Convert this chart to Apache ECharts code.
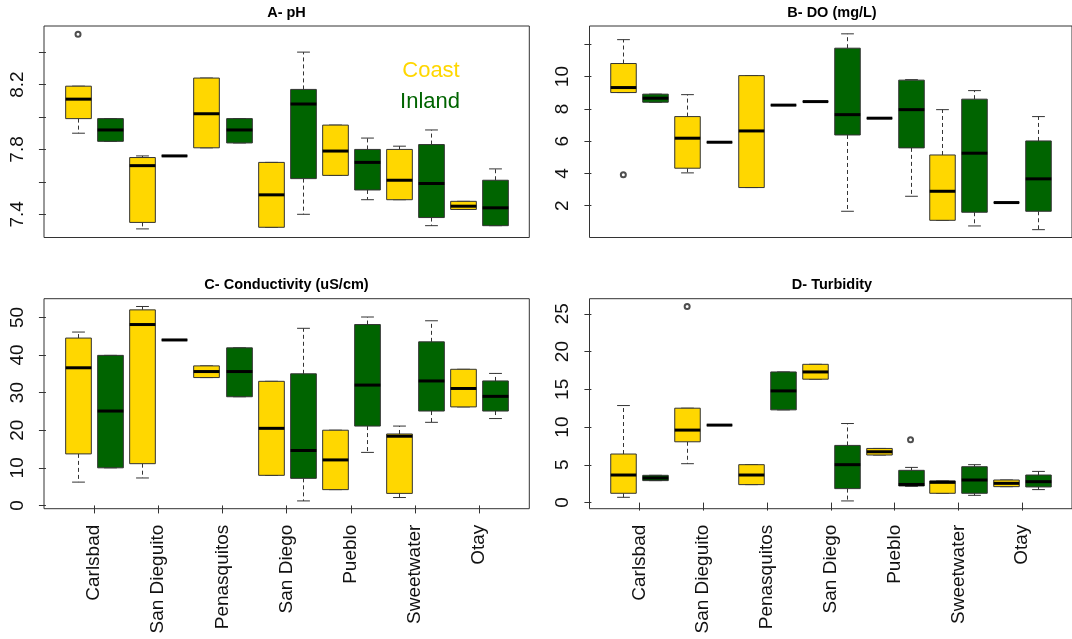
<!DOCTYPE html>
<html><head><meta charset="utf-8">
<script src="https://cdn.jsdelivr.net/npm/echarts@6/dist/echarts.min.js"></script>
<style>html,body{margin:0;padding:0;background:#fff}#c{width:1072px;height:639px}</style>
</head><body><div id="c"></div>
<script>
const sites = ['Carlsbad','San Dieguito','Penasquitos','San Diego','Pueblo','Sweetwater','Otay'];
const siteTicks = [1.5,3.5,5.5,7.5,9.5,11.5,13.5];

// each row: [lower whisker, Q1, median, Q3, upper whisker]
const phCoast = [[7.90,7.99,8.11,8.19,8.19],[7.31,7.35,7.70,7.75,7.76],[7.81,7.81,8.02,8.24,8.24],[7.32,7.32,7.52,7.72,7.72],[7.64,7.64,7.79,7.95,7.95],[7.49,7.49,7.61,7.80,7.82],[7.43,7.43,7.45,7.48,7.48]];
const phInland = [[7.85,7.85,7.92,7.99,7.99],[7.76,7.76,7.76,7.76,7.76],[7.84,7.84,7.92,7.99,7.99],[7.40,7.62,8.08,8.17,8.40],[7.49,7.55,7.72,7.80,7.87],[7.33,7.38,7.59,7.83,7.92],[7.33,7.33,7.44,7.61,7.68]];
const phOutCoast = [[0,8.51]];
const phOutInland = [];

const doCoast = [[9.01,9.01,9.32,10.81,12.29],[4.03,4.32,6.18,7.52,8.88],[3.12,3.12,6.63,10.06,10.06],[8.45,8.45,8.45,8.45,8.45],[7.42,7.42,7.42,7.42,7.42],[1.09,1.09,2.89,5.14,7.95],[2.19,2.19,2.19,2.19,2.19]];
const doInland = [[8.41,8.41,8.66,8.91,8.91],[5.93,5.93,5.93,5.93,5.93],[8.23,8.23,8.23,8.23,8.23],[1.65,6.38,7.64,11.76,12.65],[2.58,5.58,7.95,9.78,9.81],[0.74,1.59,5.25,8.60,9.13],[0.51,1.65,3.66,6.01,7.52]];
const doOutCoast = [[0,3.92]];
const doOutInland = [];

const condCoast = [[6.2,13.7,36.6,44.5,46.1],[7.3,11.1,48.1,52.0,52.9],[34.0,34.0,35.6,37.1,37.1],[8.0,8.0,20.5,33.0,33.0],[4.2,4.2,12.1,20.0,20.0],[2.1,3.2,18.4,19.0,21.1],[26.2,26.2,31.1,36.2,36.2]];
const condInland = [[10.0,10.0,25.1,39.9,39.9],[44.0,44.0,44.0,44.0,44.0],[28.9,28.9,35.6,41.9,41.9],[1.2,7.2,14.6,35.0,47.1],[14.1,21.1,32.0,48.1,50.1],[22.1,25.1,33.1,43.5,49.1],[23.1,25.1,29.0,33.1,35.1]];
const condOutCoast = [];
const condOutInland = [];

const turbCoast = [[0.70,1.23,3.65,6.43,12.85],[5.15,8.05,9.60,12.50,12.50],[2.38,2.38,3.65,5.02,5.02],[16.34,16.34,17.30,18.31,18.31],[6.30,6.30,6.73,7.17,7.17],[1.23,1.23,2.68,2.87,2.87],[2.11,2.11,2.55,2.99,2.99]];
const turbInland = [[2.91,2.91,3.26,3.61,3.61],[10.26,10.26,10.26,10.26,10.26],[12.28,12.28,14.79,17.30,17.30],[0.22,1.85,5.02,7.57,10.47],[2.15,2.20,2.40,4.27,4.66],[0.96,1.23,2.99,4.75,5.02],[1.72,2.07,2.77,3.65,4.13]];
const turbOutCoast = [[1,25.97]];
const turbOutInland = [[4,8.32]];

const yTicksA = [7.4,7.6,7.8,8.0,8.2,8.4], yLabelsA = [7.4,7.8,8.2];
const yTicksB = [2,4,6,8,10,12], yLabelsB = [2,4,6,8,10];
const yTicksC = [0,10,20,30,40,50], yLabelsC = [0,10,20,30,40,50];
const yTicksD = [0,5,10,15,20,25], yLabelsD = [0,5,10,15,20,25];

const titles = ['A- pH','B- DO (mg/L)','C- Conductivity (uS/cm)','D- Turbidity'];

const GOLD = '#FFD700', GREEN = '#006400';
const FONT = "'Liberation Sans', Arial, sans-serif";

function boxRender(color){
  return function(params, api){
    const x = api.value(0);
    const lo = api.coord([x, api.value(1)]), q1 = api.coord([x, api.value(2)]),
          md = api.coord([x, api.value(3)]), q3 = api.coord([x, api.value(4)]),
          hi = api.coord([x, api.value(5)]);
    const hw = api.size([0.8,0])[0]/2, sw = api.size([0.4,0])[0]/2;
    const cx = Math.round(md[0]) + 0.5;
    const dash = {stroke:'#333', lineWidth:1, lineDash:[4,3], fill:null};
    const solid = {stroke:'#333', lineWidth:1, fill:null};
    const ch = [];
    if (hi[1] < q3[1]-0.5) ch.push({type:'line', shape:{x1:cx,y1:q3[1],x2:cx,y2:hi[1]}, style:dash});
    if (lo[1] > q1[1]+0.5) ch.push({type:'line', shape:{x1:cx,y1:q1[1],x2:cx,y2:lo[1]}, style:dash});
    ch.push({type:'line', shape:{x1:cx-sw,y1:hi[1],x2:cx+sw,y2:hi[1]}, style:solid});
    ch.push({type:'line', shape:{x1:cx-sw,y1:lo[1],x2:cx+sw,y2:lo[1]}, style:solid});
    ch.push({type:'rect', shape:{x:cx-hw, y:q3[1], width:2*hw, height:Math.max(q1[1]-q3[1],0.01)},
             style:{fill:color, stroke:'#333', lineWidth:1}});
    ch.push({type:'line', shape:{x1:cx-hw,y1:md[1],x2:cx+hw,y2:md[1]}, style:{stroke:'#000', lineWidth:3}});
    return {type:'group', children:ch};
  };
}

const grids = [
  {left:44, right:542.7, top:26, bottom:401.5},
  {left:589.5, right:-2.3, top:26, bottom:401.5},
  {left:44, right:542.7, top:298.7, bottom:130.3},
  {left:589.5, right:-2.3, top:298.7, bottom:130.3}
].map(g => Object.assign({show:true, borderColor:'#333', borderWidth:1, backgroundColor:'transparent'}, g));

const ranges = [[7.257,8.561],[0.024,13.136],[-0.87,54.97],[-0.81,27.0]];
const yTicks = [yTicksA,yTicksB,yTicksC,yTicksD];
const yLabels = [yLabelsA,yLabelsB,yLabelsC,yLabelsD];
const panels = [
  [phCoast,phInland,phOutCoast,phOutInland],
  [doCoast,doInland,doOutCoast,doOutInland],
  [condCoast,condInland,condOutCoast,condOutInland],
  [turbCoast,turbInland,turbOutCoast,turbOutInland]
];

const xAxes = grids.map((g,i) => {
  const bottom = i >= 2;
  return {
    type:'value', gridIndex:i, min:-0.06, max:15.06,
    axisLine:{show:false}, splitLine:{show:false},
    axisTick:{show:bottom, customValues:siteTicks, length:8, lineStyle:{color:'#333'}},
    axisLabel:{show:bottom, customValues:siteTicks, rotate:90, margin:16, fontSize:19, fontFamily:FONT, color:'#111',
      formatter: v => sites[Math.round((v-1.5)/2)] || ''}
  };
});
const yAxes = grids.map((g,i) => ({
  type:'value', gridIndex:i, min:ranges[i][0], max:ranges[i][1],
  axisLine:{show:false}, splitLine:{show:false},
  axisTick:{show:true, customValues:yTicks[i], length:7, lineStyle:{color:'#333'}},
  axisLabel:{show:true, customValues:yLabels[i], rotate:90, margin:17, fontSize:19, fontFamily:FONT, color:'#111'}
}));

const series = [];
panels.forEach((p,i) => {
  [0,1].forEach(k => {
    const arr = p[k];
    series.push({
      type:'custom', name: k===0?'Coast':'Inland', xAxisIndex:i, yAxisIndex:i,
      renderItem: boxRender(k===0?GOLD:GREEN),
      encode:{x:0, y:[1,2,3,4,5]},
      data: arr.map((r,j) => [2*j+1+k].concat(r)),
      silent:true
    });
    const outs = p[2+k];
    series.push({
      type:'scatter', xAxisIndex:i, yAxisIndex:i, symbol:'emptyCircle', symbolSize:5,
      itemStyle:{color:'#222', borderColor:'#222', borderWidth:1},
      data: outs.map(o => [2*o[0]+1+k, o[1]]), silent:true
    });
  });
});

const titlePos = [[286.5,12.5],[832,12.5],[286.5,284.5],[832,284.5]];
const graphic = titles.map((t,i) => ({
  type:'text', x:titlePos[i][0], y:titlePos[i][1],
  style:{text:t, fontSize:14.5, fontWeight:'bold', fontFamily:FONT, fill:'#000', align:'center', verticalAlign:'middle'}
}));
graphic.push({type:'text', x:431, y:71, style:{text:'Coast', fontSize:22, fontFamily:FONT, fill:GOLD, align:'center', verticalAlign:'middle'}});
graphic.push({type:'text', x:430, y:102, style:{text:'Inland', fontSize:22, fontFamily:FONT, fill:GREEN, align:'center', verticalAlign:'middle'}});

const chart = echarts.init(document.getElementById('c'), null, {renderer:'canvas'});
chart.setOption({
  animation:false, backgroundColor:'#fff',
  grid:grids, xAxis:xAxes, yAxis:yAxes, series:series, graphic:graphic
});
</script></body></html>
